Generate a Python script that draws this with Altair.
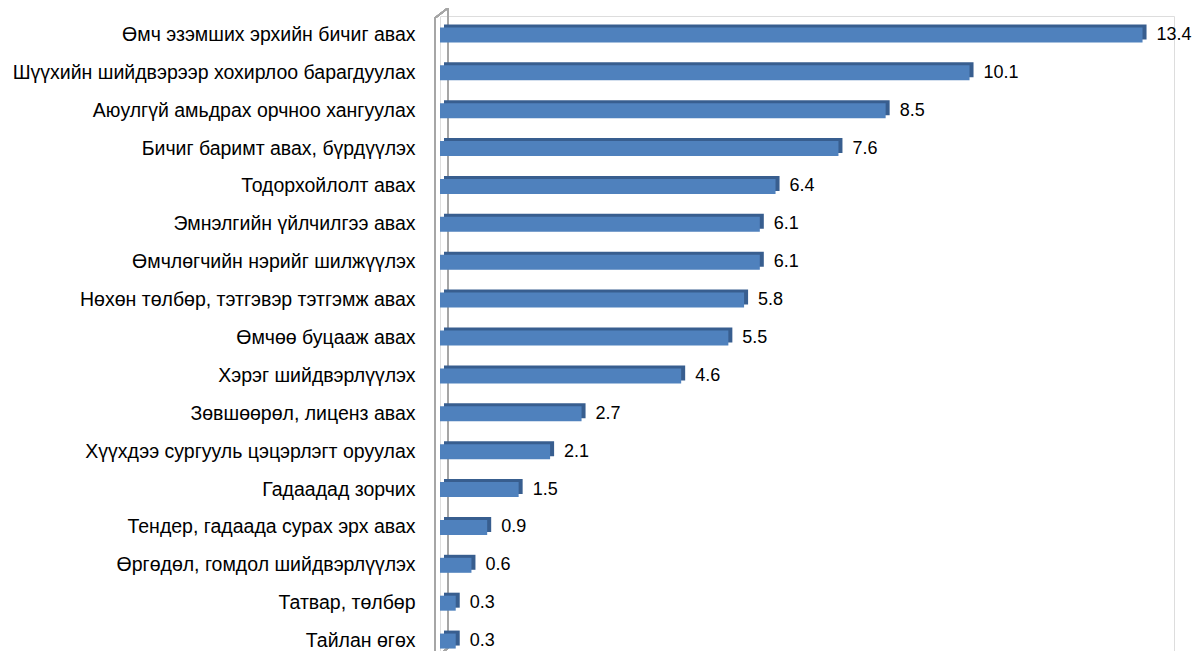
import altair as alt
import pandas as pd

categories = [
    "Өмч эзэмших эрхийн бичиг авах",
    "Шүүхийн шийдвэрээр хохирлоо барагдуулах",
    "Аюулгүй амьдрах орчноо хангуулах",
    "Бичиг баримт авах, бүрдүүлэх",
    "Тодорхойлолт авах",
    "Эмнэлгийн үйлчилгээ авах",
    "Өмчлөгчийн нэрийг шилжүүлэх",
    "Нөхөн төлбөр, тэтгэвэр тэтгэмж авах",
    "Өмчөө буцааж авах",
    "Хэрэг шийдвэрлүүлэх",
    "Зөвшөөрөл, лиценз авах",
    "Хүүхдээ сургууль цэцэрлэгт оруулах",
    "Гадаадад зорчих",
    "Тендер, гадаада сурах эрх авах",
    "Өргөдөл, гомдол шийдвэрлүүлэх",
    "Татвар, төлбөр",
    "Тайлан өгөх",
]
values = [13.4, 10.1, 8.5, 7.6, 6.4, 6.1, 6.1, 5.8, 5.5, 4.6, 2.7, 2.1, 1.5, 0.9, 0.6, 0.3, 0.3]

df = pd.DataFrame({"cat": categories, "val": values})
df["label"] = df["val"].map(lambda v: f"{v:.1f}")

FONT = "Liberation Sans"
W, H = 734, 635

x = alt.X("val:Q", scale=alt.Scale(domain=[0, 14]), axis=None)
y = alt.Y(
    "cat:N",
    sort=categories,
    scale=alt.Scale(range=[0, 644]),
    axis=alt.Axis(
        title=None,
        domain=False,
        ticks=False,
        labelFont=FONT,
        labelFontSize=19.5,
        labelColor="#000000",
        labelPadding=25,
        labelLimit=0,
    ),
)

base = alt.Chart(df)

wall = dict(color="#A6A6A6", strokeWidth=1.5)
back_line = base.mark_rule(**wall).encode(
    x=alt.value(8), y=alt.value(-8), y2=alt.value(632)
)
diag_top = base.mark_rule(**wall).encode(
    x=alt.value(-5), x2=alt.value(8), y=alt.value(2), y2=alt.value(-8)
)
diag_bot = base.mark_rule(**wall).encode(
    x=alt.value(-5), x2=alt.value(8), y=alt.value(642), y2=alt.value(632)
)
front_line = base.mark_rule(**wall).encode(
    x=alt.value(-5), y=alt.value(2), y2=alt.value(660)
)

side = base.mark_bar(
    size=15, color="#385E8F", xOffset=4, x2Offset=4, yOffset=-3, y2Offset=-3
).encode(x=x, y=y)
front = base.mark_bar(size=15, color="#4F81BD").encode(x=x, y=y)
text = base.mark_text(
    align="left", baseline="middle", dx=14, font=FONT, fontSize=18, color="#000000"
).encode(x=x, y=y, text="label:N")

chart = (
    alt.layer(back_line, diag_top, diag_bot, front_line, side, front, text)
    .properties(
        width=W,
        height=H,
        autosize=alt.AutoSizeParams(type="none"),
        padding={"left": 432, "top": 8, "right": 20, "bottom": 0},
    )
    .configure_view(stroke=None)
    .configure(background="white")
)

chart.save("out.html", embed_options={"renderer": "svg", "actions": False})
